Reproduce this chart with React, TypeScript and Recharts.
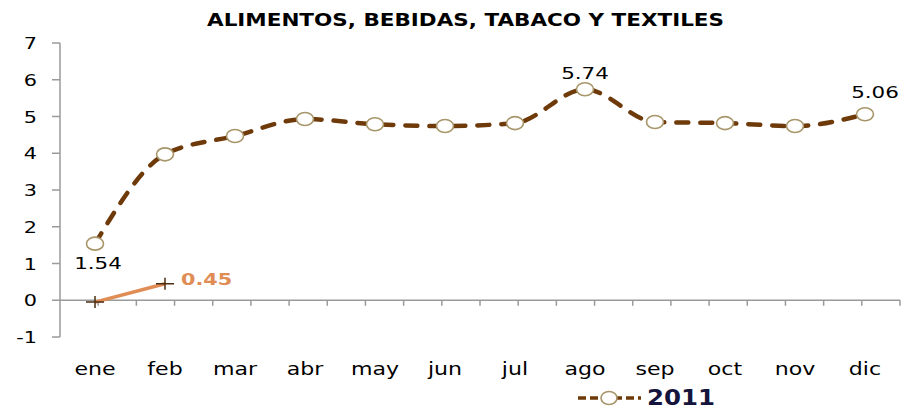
import { LineChart, Line, XAxis, YAxis, ReferenceLine, LabelList, Legend } from "recharts";

const months = ["ene", "feb", "mar", "abr", "may", "jun", "jul", "ago", "sep", "oct", "nov", "dic"];
const values2011 = [1.54, 3.97, 4.47, 4.93, 4.79, 4.74, 4.82, 5.74, 4.85, 4.82, 4.74, 5.06];
const values2012 = [-0.05, 0.45];
const yTicks = [-1, 0, 1, 2, 3, 4, 5, 6, 7];
const labelled2011 = [0, 7, 11];
const title = "ALIMENTOS, BEBIDAS, TABACO Y TEXTILES";

const FONT = "'DejaVu Sans', Verdana, sans-serif";
const BROWN = "#6e3a0a";
const TAN = "#a8966a";
const ORANGE = "#e08c55";
const AXIS = "#9a9a9a";
const STRETCH = 1.3;

const data = months.map((m, i) => ({
  mes: m,
  v2011: values2011[i],
  v2012: i < values2012.length ? values2012[i] : null,
}));

// half-category positions for the little marks on the zero line
const zeroMarks = Array.from({ length: months.length * 2 }, (_, i) => (i + 1) / 2);

function MonthTick({ x, y, payload }: any) {
  return (
    <g transform={`translate(${x},${y})`}>
      <text transform={`scale(${STRETCH},1)`} textAnchor="middle" dy={12} fontSize={17} fontFamily={FONT} fill="#000">
        {payload.value}
      </text>
    </g>
  );
}

function ValueTick({ x, y, payload }: any) {
  return (
    <g transform={`translate(${x},${y})`}>
      <text transform={`scale(${STRETCH},1)`} textAnchor="end" dy={6} fontSize={16} fontFamily={FONT} fill="#000">
        {payload.value}
      </text>
    </g>
  );
}

function RingDot({ cx, cy, index }: any) {
  if (cx == null || cy == null) return <g key={index} />;
  return <ellipse key={index} cx={cx} cy={cy} rx={8.5} ry={6.5} fill="#fff" stroke={TAN} strokeWidth={1.6} />;
}

function PlusDot({ cx, cy, index }: any) {
  if (cx == null || cy == null) return <g key={index} />;
  return (
    <path
      key={index}
      d={`M${cx - 9},${cy} h18 M${cx},${cy - 6} v12`}
      stroke="#4a2c12"
      strokeWidth={1.5}
      fill="none"
    />
  );
}

function Label2011(props: any) {
  const { x, y, value, index } = props;
  if (!labelled2011.includes(index)) return null;
  const dy = index === 0 ? 25 : index === 7 ? -10 : -16;
  const dx = index === 0 ? 3 : index === 11 ? 10 : 0;
  return (
    <g transform={`translate(${x + dx},${y + dy})`}>
      <text transform={`scale(${STRETCH},1)`} textAnchor="middle" fontSize={16.5} fontFamily={FONT} fill="#000">
        {value.toFixed(2)}
      </text>
    </g>
  );
}

function Label2012(props: any) {
  const { x, y, value, index } = props;
  if (index !== values2012.length - 1) return null;
  return (
    <g transform={`translate(${x + 16},${y + 1})`}>
      <text transform={`scale(${STRETCH},1)`} textAnchor="start" fontSize={16} fontWeight="bold" fontFamily={FONT} fill={ORANGE}>
        {value.toFixed(2)}
      </text>
    </g>
  );
}

function LegendBox() {
  return (
    <div style={{ display: "flex", alignItems: "center", height: 24 }}>
      <svg width={66} height={20}>
        <line x1={1} y1={11} x2={64} y2={11} stroke={BROWN} strokeWidth={3.5} strokeDasharray="8 4" />
        <ellipse cx={32} cy={11} rx={8} ry={6.5} fill="#fff" stroke={TAN} strokeWidth={1.6} />
      </svg>
      <svg width={80} height={24} style={{ marginLeft: 4 }}>
        <text x={0} y={20} textLength={68} lengthAdjust="spacingAndGlyphs" fontSize={21} fontWeight="bold" fontFamily={FONT} fill="#14143c">
          2011
        </text>
      </svg>
    </div>
  );
}

export default function App() {
  return (
    <div style={{ position: "relative", width: 903, height: 419, background: "#fff" }}>
      <style>{`body{margin:0}`}</style>
      <svg width={903} height={40} style={{ position: "absolute", left: 0, top: 0 }}>
        <text x={207} y={26} textLength={517} lengthAdjust="spacingAndGlyphs" fontSize={17} fontWeight="bold" fontFamily={FONT} fill="#000">
          {title}
        </text>
      </svg>
      <LineChart width={903} height={419} data={data} margin={{ top: 43, right: 3, left: 0, bottom: 10 }}>
        <XAxis
          dataKey="mes"
          axisLine={false}
          tickLine={false}
          tickSize={6}
          tickMargin={20}
          height={48}
          interval={0}
          padding={{ left: 35, right: 35 }}
          tick={<MonthTick />}
        />
        <XAxis xAxisId="pos" type="number" domain={[0, months.length]} hide />
        <YAxis
          domain={[-1, 7]}
          ticks={yTicks}
          width={60}
          interval={0}
          axisLine={{ stroke: AXIS, strokeWidth: 1.5 }}
          tickLine={{ stroke: AXIS, strokeWidth: 1.5 }}
          tickSize={8}
          tickMargin={15}
          tick={<ValueTick />}
        />
        <ReferenceLine xAxisId="pos" y={0} stroke={AXIS} strokeWidth={1.5} />
        {zeroMarks.map((m) => (
          <ReferenceLine
            key={m}
            xAxisId="pos"
            segment={[
              { x: m, y: 0 },
              { x: m, y: -0.15 },
            ]}
            stroke={AXIS}
            strokeWidth={1.5}
          />
        ))}
        <Legend
          verticalAlign="bottom"
          content={<LegendBox />}
          wrapperStyle={{ left: 577, width: 160, height: 24 }}
        />
        <Line
          type="monotone"
          dataKey="v2011"
          name="2011"
          stroke={BROWN}
          strokeWidth={4.5}
          strokeDasharray="12 12"
          strokeLinecap="round"
          dot={<RingDot />}
          activeDot={false}
          isAnimationActive={false}
        >
          <LabelList dataKey="v2011" content={<Label2011 />} />
        </Line>
        <Line
          type="linear"
          dataKey="v2012"
          name="2012"
          stroke={ORANGE}
          strokeWidth={3.5}
          dot={<PlusDot />}
          activeDot={false}
          legendType="none"
          connectNulls={false}
          isAnimationActive={false}
        >
          <LabelList dataKey="v2012" content={<Label2012 />} />
        </Line>
      </LineChart>
    </div>
  );
}
